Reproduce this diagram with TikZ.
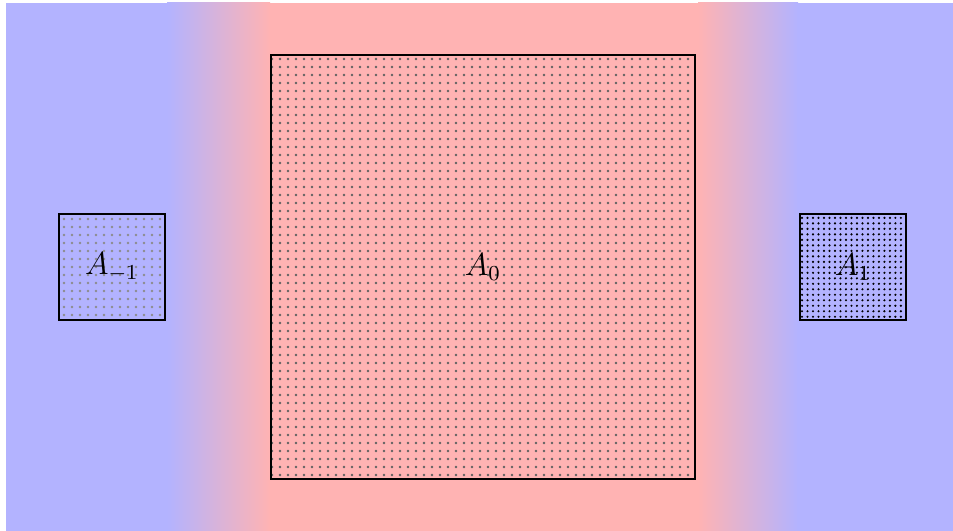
\documentclass[tikz,border=0pt]{standalone}
\usetikzlibrary{patterns}
\pgfdeclarepatternformonly{finedots}{\pgfqpoint{-1pt}{-1pt}}{\pgfqpoint{1pt}{1pt}}{\pgfqpoint{2.06pt}{2.06pt}}{%
  \pgfpathcircle{\pgfqpoint{0pt}{0pt}}{.45pt}\pgfusepath{fill}}
\definecolor{bgblue}{RGB}{179,179,255}
\definecolor{bgred}{RGB}{255,179,179}
\tikzset{
  setbox/.style={draw=black, line width=0.45pt, inner sep=0pt, font=\large},
}
\begin{document}
\begin{tikzpicture}[x=0.375pt, y=-0.375pt]
  \useasboundingbox (0,0) rectangle (953,531);
  % background bands
  \fill[bgblue] (6,3) rectangle (168,531);
  \shade[left color=bgblue, right color=bgred] (167,3) rectangle (270,531);
  \fill[bgred] (269,3) rectangle (699,531);
  \shade[left color=bgred, right color=bgblue] (698,3) rectangle (798,531);
  \fill[bgblue] (797,3) rectangle (953,531);
  % sets
  \node[setbox, minimum width=39.75pt, minimum height=39.75pt,
        pattern=dots, pattern color=black!45] (am1) at (112,267) {$A_{-1}$};
  \node[setbox, minimum width=159pt, minimum height=159pt,
        pattern=dots, pattern color=black!62] (a0) at (483,267) {$A_0$};
  \node[setbox, minimum width=39.75pt, minimum height=39.75pt,
        pattern=finedots, pattern color=black] (a1) at (853,267) {$A_1$};
\end{tikzpicture}
\end{document}
